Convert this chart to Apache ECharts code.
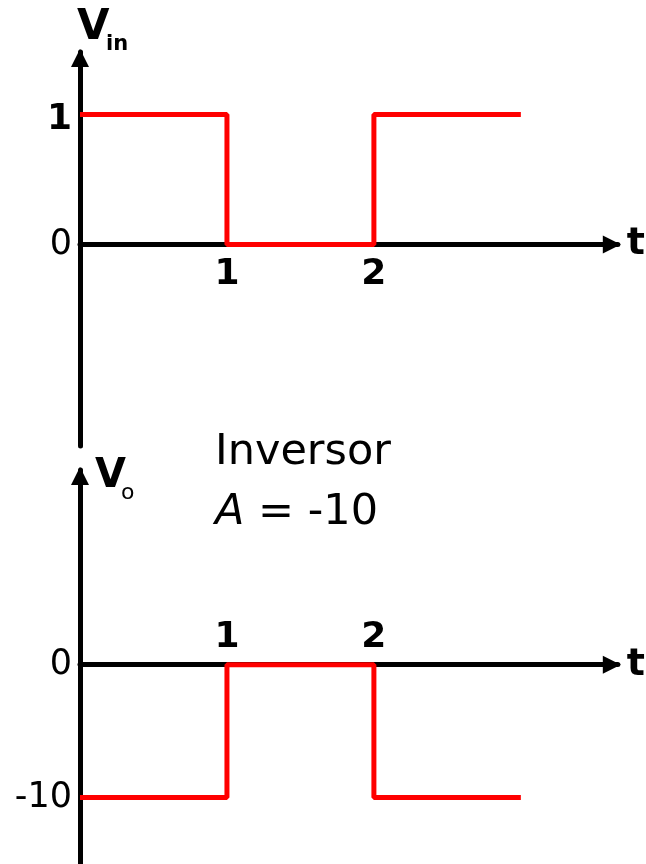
<!DOCTYPE html>
<html>
<head>
<meta charset="utf-8">
<script src="https://cdn.jsdelivr.net/npm/echarts@6/dist/echarts.min.js"></script>
<style>
  html, body { margin: 0; padding: 0; background: #fff; }
  #chart { width: 646px; height: 864px; }
</style>
</head>
<body>
<div id="chart"></div>
<script>
// inverter input / output square waves
const times = [0, 1, 2, 3];
const vin = [1, 0, 1, 1];
const vout = [-10, 0, -10, -10];
const tTicks = [1, 2];
const vinTicks = [0, 1];
const voutTicks = [-10, 0];

const FONT = '"DejaVu Sans", sans-serif';
const RED = '#ff0000';

// panel layout
const inPanel = { top: 52, height: 394, min: -1.55, max: 1.48 };
const outPanel = { top: 470, height: 394, min: -15, max: 14.65 };

function pairs(ys) {
    return times.map((t, i) => [t, ys[i]]);
}

// pixel distance from grid edge to the zero line
function zeroFromBottom(p) {
    return p.height * (0 - p.min) / (p.max - p.min);
}
function zeroFromTop(p) {
    return p.height * (p.max - 0) / (p.max - p.min);
}

function axisLine() {
    return {
        show: true,
        onZero: false,
        symbol: ['none', 'triangle'],
        symbolSize: [18, 18],
        symbolOffset: [0, -6],
        lineStyle: { color: '#000', width: 5 }
    };
}

function timeAxis(grid, pos, offset, margin) {
    return {
        type: 'value',
        gridIndex: grid,
        position: pos,
        offset: offset,
        min: 0,
        max: 3.66,
        name: 't',
        nameLocation: 'end',
        nameGap: 9,
        nameTextStyle: { fontFamily: FONT, fontWeight: 'bold', fontSize: 38, color: '#000' },
        axisLine: axisLine(),
        axisTick: { show: false },
        splitLine: { show: false },
        axisLabel: {
            customValues: tTicks,
            margin: margin,
            fontFamily: FONT, fontWeight: 'bold', fontSize: 36, color: '#000'
        }
    };
}

function voltAxis(grid, p, ticks, fmt) {
    return {
        type: 'value',
        gridIndex: grid,
        min: p.min,
        max: p.max,
        axisLine: axisLine(),
        axisTick: { show: false },
        splitLine: { show: false },
        axisLabel: {
            customValues: ticks,
            margin: 8,
            formatter: fmt,
            fontFamily: FONT, fontSize: 35, color: '#000',
            rich: {
                b: { fontFamily: FONT, fontWeight: 'bold', fontSize: 36, color: '#000', padding: [10, 0, 0, 0] },
                r: { fontFamily: FONT, fontSize: 35, color: '#000' }
            }
        }
    };
}

function label(x, y, text, size, weight) {
    return {
        type: 'text', x: x, y: y,
        style: {
            text: text, fill: '#000',
            font: (weight || 'normal') + ' ' + size + 'px ' + FONT,
            textAlign: 'left', textVerticalAlign: 'middle'
        }
    };
}

const chart = echarts.init(document.getElementById('chart'));
chart.setOption({
    backgroundColor: '#fff',
    animation: false,
    grid: [
        { left: 80, top: inPanel.top, width: 538, height: inPanel.height },
        { left: 80, top: outPanel.top, width: 538, height: outPanel.height }
    ],
    xAxis: [
        timeAxis(0, 'bottom', -zeroFromBottom(inPanel), 12),
        timeAxis(1, 'top', -zeroFromTop(outPanel), 9)
    ],
    yAxis: [
        voltAxis(0, inPanel, vinTicks, v => v === 1 ? '{b|1}' : '{r|0}'),
        voltAxis(1, outPanel, voutTicks, v => String(v))
    ],
    series: [
        {
            type: 'line', xAxisIndex: 0, yAxisIndex: 0,
            step: 'end', symbol: 'none',
            lineStyle: { color: RED, width: 5 },
            data: pairs(vin)
        },
        {
            type: 'line', xAxisIndex: 1, yAxisIndex: 1,
            step: 'end', symbol: 'none',
            lineStyle: { color: RED, width: 5 },
            data: pairs(vout)
        }
    ],
    graphic: [
        label(77, 28, 'V', 42, 'bold'),
        label(106, 45, 'in', 21, 'bold'),
        label(95, 477, 'V', 40, 'bold'),
        label(121, 493, 'o', 22, 'normal'),
        label(215, 453, 'Inversor', 43),
        {
            type: 'text', x: 215, y: 513,
            style: {
                text: '{i|A} = -10', fill: '#000',
                font: '43px ' + FONT,
                textAlign: 'left', textVerticalAlign: 'middle',
                rich: { i: { fontFamily: FONT, fontSize: 43, fontStyle: 'italic', fill: '#000' } }
            }
        }
    ]
});
</script>
</body>
</html>
